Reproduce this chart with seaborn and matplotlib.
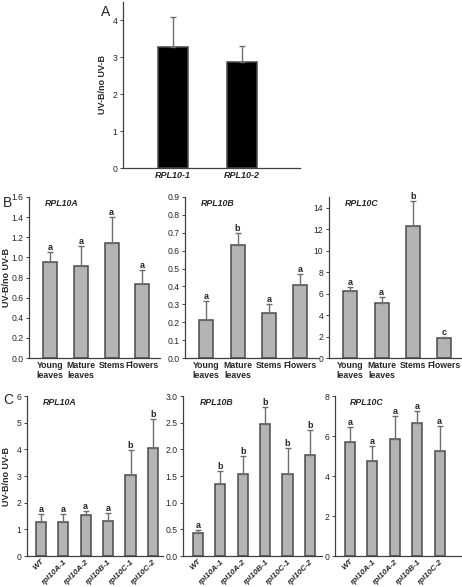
import matplotlib
matplotlib.use("Agg")
import matplotlib.pyplot as plt
import seaborn as sns
import pandas as pd
import numpy as np

sns.set_style("ticks")
plt.rcParams['font.family'] = ['Liberation Sans', 'DejaVu Sans']

# ---- Data ----
a_genes = ["RPL10-1", "RPL10-2"]
a_vals = [3.28, 2.88]
a_err = [0.82, 0.44]

tissues = ["Young\nleaves", "Mature\nleaves", "Stems", "Flowers"]
b_titles = ["RPL10A", "RPL10B", "RPL10C"]
b_vals = [[0.95, 0.91, 1.14, 0.74],
          [0.21, 0.63, 0.25, 0.41],
          [6.2, 5.1, 12.3, 1.85]]
b_err = [[0.10, 0.20, 0.26, 0.13],
         [0.11, 0.07, 0.05, 0.06],
         [0.4, 0.6, 2.3, 0.1]]
b_letters = [["a", "a", "a", "a"],
             ["a", "b", "a", "a"],
             ["a", "a", "b", "c"]]
b_ylim = [1.6, 0.9, 15]
b_ticks = [np.arange(0, 1.61, 0.2), np.arange(0, 0.91, 0.1), np.arange(0, 14.1, 2)]
b_fmt = ["%.1f", "%.1f", "%d"]

c_lines = [["WT", "rpl10A-1", "rpl10A-2", "rpl10B-1", "rpl10C-1", "rpl10C-2"],
           ["WT", "rpl10A-1", "rpl10A-2", "rpl10B-1", "rpl10C-1", "rpl10C-2"],
           ["WT", "rpl10A-1", "rpl10A-2", "rpl10B-1", "rpl10C-2"]]
c_vals = [[1.28, 1.27, 1.52, 1.33, 3.05, 4.05],
          [0.43, 1.35, 1.53, 2.48, 1.53, 1.90],
          [5.7, 4.75, 5.85, 6.65, 5.25]]
c_err = [[0.29, 0.30, 0.16, 0.29, 0.93, 1.09],
         [0.05, 0.24, 0.35, 0.32, 0.49, 0.47],
         [0.75, 0.75, 1.15, 0.6, 1.25]]
c_letters = [["a", "a", "a", "a", "b", "b"],
             ["a", "b", "b", "b", "b", "b"],
             ["a", "a", "a", "a", "a"]]
c_ylim = [6, 3.0, 8]
c_ticks = [np.arange(0, 6.1, 1), np.arange(0, 3.01, 0.5), np.arange(0, 8.1, 2)]
c_fmt = ["%d", "%.1f", "%d"]

W, H = 462, 587
fig = plt.figure(figsize=(W / 100, H / 100), dpi=100)

def px_axes(l, r, top, bot):
    return fig.add_axes([l / W, (H - bot) / H, (r - l) / W, (bot - top) / H])

BAR_GRAY = "#b4b4b4"
EDGE = "#4a4a4a"
ERR = "#6e6e6e"
SPINE = "#404040"
TS = 6.2

def style(ax, ymax, ticks, fmt):
    sns.despine(ax=ax)
    for s in ["left", "bottom"]:
        ax.spines[s].set_color(SPINE)
        ax.spines[s].set_linewidth(0.9)
    ax.set_ylim(0, ymax)
    ax.set_yticks(ticks)
    ax.set_yticklabels([fmt % t for t in ticks], fontsize=TS)
    ax.tick_params(axis="y", length=2.5, width=0.7, pad=1.5, color=SPINE)
    ax.tick_params(axis="x", length=0, pad=2)
    ax.set_xlabel("")
    ax.set_ylabel("")

def draw(ax, cats, vals, errs, color, width, xlim):
    df = pd.DataFrame({"cat": cats, "val": vals})
    sns.barplot(data=df, x="cat", y="val", color=color, edgecolor=EDGE,
                linewidth=1.1, width=width, errorbar=None, ax=ax, saturation=1)
    x = np.arange(len(cats))
    ax.errorbar(x, vals, yerr=[np.zeros(len(vals)), errs], fmt="none",
                ecolor=ERR, elinewidth=1.0, capsize=2.5, capthick=1.0)
    ax.set_xlim(*xlim)

# ---- Panel A ----
axA = px_axes(123, 300, 2, 168)
draw(axA, a_genes, a_vals, a_err, "black", 0.43, (-0.72, 1.84))
style(axA, 4.5, np.arange(0, 4.1, 1), "%d")
axA.set_xticks(range(len(a_genes)))
axA.set_xticklabels(a_genes, fontsize=6.5, fontweight="bold", style="italic")
axA.set_ylabel("UV-B/no UV-B", fontsize=6.5, fontweight="bold", labelpad=4)
fig.text(101 / W, 1 - 12 / H, "A", fontsize=10, va="center")

# ---- Panel B ----
b_pos = [(29, 160), (185, 318), (329, 462)]
for i in range(3):
    l, r = b_pos[i]
    ax = px_axes(l, r, 197, 358)
    draw(ax, tissues, b_vals[i], b_err[i], BAR_GRAY, 0.45, (-0.68, 3.57))
    style(ax, b_ylim[i], b_ticks[i], b_fmt[i])
    ax.set_xticks(range(4))
    ax.set_xticklabels(tissues, fontsize=6.3, fontweight="bold", linespacing=1.2)
    ax.text(0.12, 0.985, b_titles[i], transform=ax.transAxes, fontsize=6.3,
            fontweight="bold", style="italic", va="top", ha="left")
    for j, (v, e, t) in enumerate(zip(b_vals[i], b_err[i], b_letters[i])):
        ax.text(j, v + e, t, ha="center", va="bottom", fontsize=6.5,
                fontweight="bold")
    if i == 0:
        ax.set_ylabel("UV-B/no UV-B", fontsize=6.5, fontweight="bold")
        ax.yaxis.set_label_coords((11 - l) / (r - l), 0.5)
fig.text(3 / W, 1 - 203 / H, "B", fontsize=10, va="center")

# ---- Panel C ----
c_pos = [(27, 163), (183, 322), (335, 462)]
c_xlim = [(-0.62, 5.45), (-0.67, 5.54), (-0.67, 5.0)]
for i in range(3):
    l, r = c_pos[i]
    ax = px_axes(l, r, 396, 556)
    draw(ax, c_lines[i], c_vals[i], c_err[i], BAR_GRAY, 0.45, c_xlim[i])
    style(ax, c_ylim[i], c_ticks[i], c_fmt[i])
    ax.set_xticks(range(len(c_lines[i])))
    ax.set_xticklabels(c_lines[i], fontsize=5.8, fontweight="bold", style="italic",
                       rotation=45, ha="right", rotation_mode="anchor")
    ax.tick_params(axis="x", pad=1.5)
    ax.text(0.12, 0.985, b_titles[i], transform=ax.transAxes, fontsize=6.3,
            fontweight="bold", style="italic", va="top", ha="left")
    for j, (v, e, t) in enumerate(zip(c_vals[i], c_err[i], c_letters[i])):
        ax.text(j, v + e, t, ha="center", va="bottom", fontsize=6.5,
                fontweight="bold")
    if i == 0:
        ax.set_ylabel("UV-B/no UV-B", fontsize=6.5, fontweight="bold")
        ax.yaxis.set_label_coords((11 - l) / (r - l), 0.5)
fig.text(3 / W, 1 - 400 / H, "C", fontsize=10, va="center")

fig.savefig("out.png", dpi=100)
